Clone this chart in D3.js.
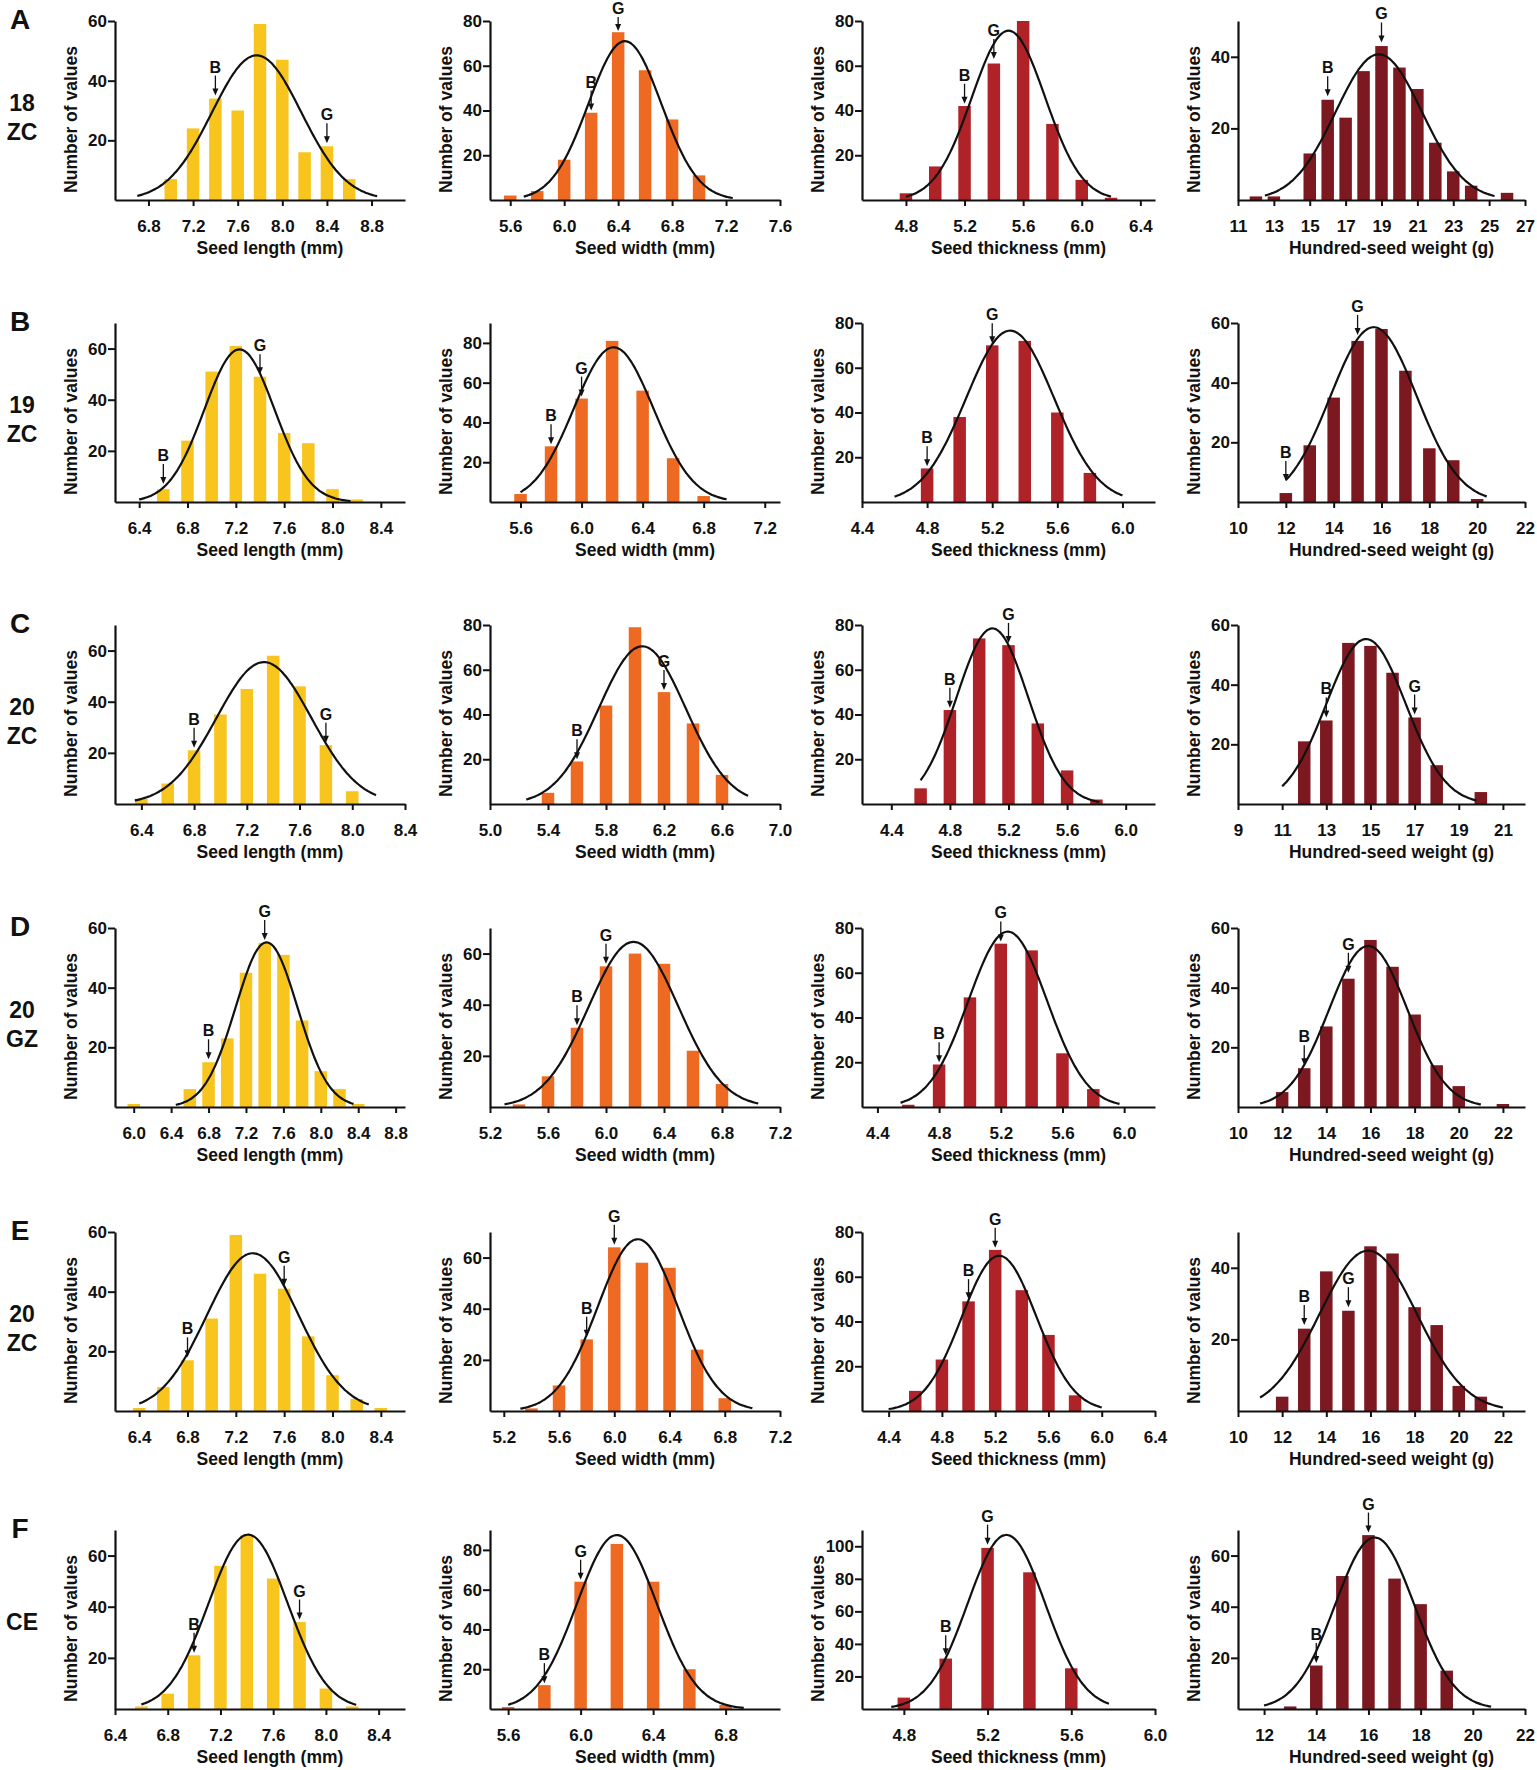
<!DOCTYPE html>
<html>
<head>
<meta charset="utf-8">
<script src="https://cdn.jsdelivr.net/npm/d3@7"></script>
<style>
  body { margin: 0; background: #fff; }
  svg text { font-family: "Liberation Sans", Arial, sans-serif; font-weight: bold; fill: #111; }
</style>
</head>
<body>
<div id="chart"></div>
<script>
// rows and traits
const rowLetters = ["A", "B", "C", "D", "E", "F"];
const rowNames = [["18", "ZC"], ["19", "ZC"], ["20", "ZC"], ["20", "GZ"], ["20", "ZC"], ["CE"]];
const traitTitles = ["Seed length (mm)", "Seed width (mm)", "Seed thickness (mm)", "Hundred-seed weight (g)"];
const traitColors = ["#f7c51e", "#ee6a23", "#ae2228", "#7b1820"];
const binSteps = [0.2, 0.2, 0.2, 1];

// seed length
const lengthBinStart = [7.0, 6.6, 6.4, 6.0, 6.4, 6.6];
const lengthCounts = [
  [7, 24, 34, 30, 59, 47, 16, 18, 7],
  [5, 24, 51, 61, 49, 27, 23, 5, 1],
  [2, 8, 21, 35, 45, 58, 46, 23, 5],
  [1, 0, 0, 6, 15, 23, 45, 55, 51, 29, 12, 6, 1],
  [1, 8, 17, 31, 59, 46, 41, 25, 12, 4, 1],
  [1, 6, 21, 56, 68, 51, 34, 8, 1]
];
const lengthXDomain = [[6.5, 9.1], [6.2, 8.6], [6.2, 8.4], [5.8, 8.9], [6.2, 8.6], [6.4, 8.6]];
const lengthXTicks = [
  [6.8, 7.2, 7.6, 8.0, 8.4, 8.8],
  [6.4, 6.8, 7.2, 7.6, 8.0, 8.4],
  [6.4, 6.8, 7.2, 7.6, 8.0, 8.4],
  [6.0, 6.4, 6.8, 7.2, 7.6, 8.0, 8.4, 8.8],
  [6.4, 6.8, 7.2, 7.6, 8.0, 8.4],
  [6.4, 6.8, 7.2, 7.6, 8.0, 8.4]
];
const lengthYMax = [60, 70, 70, 60, 60, 70];
// gaussian fit: mean, sd, peak, from, to
const lengthCurve = [
  [7.77, 0.40, 48.5, 6.7, 8.85],
  [7.23, 0.29, 59.7, 6.4, 8.15],
  [7.33, 0.36, 55.5, 6.35, 8.18],
  [7.42, 0.33, 55.2, 6.45, 8.35],
  [7.34, 0.38, 52.9, 6.4, 8.3],
  [7.41, 0.30, 68.2, 6.6, 8.23]
];
const lengthArrows = [
  [["B", 7.4, 35], ["G", 8.4, 19]],
  [["B", 6.6, 7], ["G", 7.4, 50]],
  [["B", 6.8, 22], ["G", 7.8, 24]],
  [["B", 6.8, 16], ["G", 7.4, 56]],
  [["B", 6.8, 18], ["G", 7.6, 42]],
  [["B", 7.0, 22], ["G", 7.8, 35]]
];

// seed width
const widthBinStart = [5.6, 5.6, 5.4, 5.4, 5.4, 5.6];
const widthCounts = [
  [2, 4, 18, 39, 75, 58, 36, 11],
  [4, 28, 52, 81, 56, 22, 3],
  [5, 19, 44, 79, 50, 36, 13],
  [1, 12, 31, 55, 60, 56, 22, 9],
  [1, 10, 28, 64, 58, 56, 24, 5],
  [1, 12, 64, 83, 64, 20, 2]
];
const widthXDomain = [[5.45, 7.6], [5.4, 7.3], [5.0, 7.0], [5.2, 7.2], [5.1, 7.2], [5.5, 7.1]];
const widthXTicks = [
  [5.6, 6.0, 6.4, 6.8, 7.2, 7.6],
  [5.6, 6.0, 6.4, 6.8, 7.2],
  [5.0, 5.4, 5.8, 6.2, 6.6, 7.0],
  [5.2, 5.6, 6.0, 6.4, 6.8, 7.2],
  [5.2, 5.6, 6.0, 6.4, 6.8, 7.2],
  [5.6, 6.0, 6.4, 6.8]
];
const widthYMax = [80, 90, 80, 70, 70, 90];
const widthCurve = [
  [6.45, 0.27, 71, 5.7, 7.25],
  [6.21, 0.26, 77.8, 5.6, 6.95],
  [6.05, 0.30, 70.5, 5.25, 6.78],
  [6.19, 0.31, 64.6, 5.3, 7.05],
  [6.17, 0.29, 67.2, 5.32, 7.0],
  [6.20, 0.22, 87.5, 5.6, 6.9]
];
const widthArrows = [
  [["B", 6.2, 40], ["G", 6.4, 75.5]],
  [["B", 5.8, 29], ["G", 6.0, 53]],
  [["B", 5.6, 20], ["G", 6.2, 51]],
  [["B", 5.8, 32], ["G", 6.0, 56]],
  [["B", 5.8, 29], ["G", 6.0, 65]],
  [["B", 5.8, 13], ["G", 6.0, 65]]
];

// seed thickness
const thickBinStart = [4.8, 4.8, 4.6, 4.6, 4.6, 4.8];
const thickCounts = [
  [3, 15, 42, 61, 80, 34, 9, 1],
  [15, 38, 70, 72, 40, 13],
  [7, 42, 74, 71, 36, 15, 2],
  [1, 19, 49, 73, 70, 24, 8],
  [9, 23, 49, 72, 54, 34, 7],
  [7, 31, 99, 84, 25]
];
const thickXDomain = [[4.5, 6.5], [4.4, 6.2], [4.2, 6.2], [4.3, 6.2], [4.2, 6.4], [4.6, 6.0]];
const thickXTicks = [
  [4.8, 5.2, 5.6, 6.0, 6.4],
  [4.4, 4.8, 5.2, 5.6, 6.0],
  [4.4, 4.8, 5.2, 5.6, 6.0],
  [4.4, 4.8, 5.2, 5.6, 6.0],
  [4.4, 4.8, 5.2, 5.6, 6.0, 6.4],
  [4.8, 5.2, 5.6, 6.0]
];
const thickYMax = [80, 80, 80, 80, 80, 110];
const thickCurve = [
  [5.50, 0.25, 75.7, 4.8, 6.2],
  [5.31, 0.27, 76.6, 4.6, 6.0],
  [5.09, 0.245, 78.5, 4.6, 5.82],
  [5.245, 0.255, 78.4, 4.55, 5.97],
  [5.23, 0.28, 69.4, 4.4, 6.0],
  [5.29, 0.185, 107, 4.74, 5.78]
];
const thickArrows = [
  [["B", 5.2, 43], ["G", 5.4, 63]],
  [["B", 4.8, 16], ["G", 5.2, 71]],
  [["B", 4.8, 43], ["G", 5.2, 72]],
  [["B", 4.8, 20], ["G", 5.2, 74]],
  [["B", 5.0, 50], ["G", 5.2, 73]],
  [["B", 5.0, 33], ["G", 5.2, 101]]
];

// hundred-seed weight
const weightBinStart = [12, 12, 12, 12, 12, 13];
const weightCounts = [
  [1, 1, 0, 13, 28, 23, 36, 43, 37, 31, 16, 8, 4, 0, 2],
  [3, 19, 35, 54, 58, 44, 18, 14, 1],
  [21, 28, 54, 53, 44, 29, 13, 0, 4],
  [5, 13, 27, 43, 56, 47, 31, 14, 7, 0, 1],
  [4, 23, 39, 28, 46, 44, 29, 24, 7, 4],
  [1, 17, 52, 68, 51, 41, 15]
];
const weightXDomain = [[11, 27], [10, 22], [9, 22], [10, 23], [10, 23], [11, 22]];
const weightXTicks = [
  [11, 13, 15, 17, 19, 21, 23, 25, 27],
  [10, 12, 14, 16, 18, 20, 22],
  [9, 11, 13, 15, 17, 19, 21],
  [10, 12, 14, 16, 18, 20, 22],
  [10, 12, 14, 16, 18, 20, 22],
  [12, 14, 16, 18, 20, 22]
];
const weightYMax = [50, 60, 60, 60, 50, 70];
const weightCurve = [
  [18.85, 2.4, 40.7, 12.5, 25.3],
  [15.67, 1.8, 58.6, 12, 20.4],
  [14.8, 1.8, 55.3, 11, 19.8],
  [15.9, 1.77, 54, 11, 21],
  [15.9, 2.2, 44.8, 11, 22],
  [16.24, 1.52, 67.1, 12, 20.7]
];
const weightArrows = [
  [["B", 16, 29], ["G", 19, 44]],
  [["B", 12, 7], ["G", 15, 56]],
  [["B", 13, 29], ["G", 17, 30]],
  [["B", 13, 14], ["G", 15, 45]],
  [["B", 13, 24], ["G", 15, 29]],
  [["B", 14, 18], ["G", 16, 69]]
];

const traits = [
  { start: lengthBinStart, counts: lengthCounts, domain: lengthXDomain, ticks: lengthXTicks, ymax: lengthYMax, curve: lengthCurve, arrows: lengthArrows, fmt: d3.format(".1f") },
  { start: widthBinStart, counts: widthCounts, domain: widthXDomain, ticks: widthXTicks, ymax: widthYMax, curve: widthCurve, arrows: widthArrows, fmt: d3.format(".1f") },
  { start: thickBinStart, counts: thickCounts, domain: thickXDomain, ticks: thickXTicks, ymax: thickYMax, curve: thickCurve, arrows: thickArrows, fmt: d3.format(".1f") },
  { start: weightBinStart, counts: weightCounts, domain: weightXDomain, ticks: weightXTicks, ymax: weightYMax, curve: weightCurve, arrows: weightArrows, fmt: d3.format("d") }
];

// layout
const width = 1537, height = 1770;
const colLeft = [115, 490, 862, 1238];
const colWidth = [290, 290, 293, 287];
const rowAxisY = [200, 502, 804, 1107, 1411, 1709];
const plotH = 179;
const barW = 12.5;

const svg = d3.select("#chart").append("svg")
  .attr("width", width)
  .attr("height", height);

// row labels
rowLetters.forEach((letter, r) => {
  const top = rowAxisY[r] - plotH;
  svg.append("text")
    .attr("x", 20).attr("y", top - 2)
    .attr("text-anchor", "middle").attr("dy", "0.35em")
    .style("font-size", "28px")
    .text(letter);
  const names = rowNames[r];
  const cy = names.length === 2 ? [top + 82, top + 111] : [top + 92];
  names.forEach((n, i) => {
    svg.append("text")
      .attr("x", 22).attr("y", cy[i])
      .attr("text-anchor", "middle").attr("dy", "0.35em")
      .style("font-size", "23px")
      .text(n);
  });
});

function drawPanel(r, c) {
  const t = traits[c];
  const x0 = colLeft[c], y0 = rowAxisY[r];
  const g = svg.append("g");

  const x = d3.scaleLinear().domain(t.domain[r]).range([x0, x0 + colWidth[c]]);
  const y = d3.scaleLinear().domain([0, t.ymax[r]]).range([y0, y0 - plotH]);

  const bins = t.counts[r].map((v, i) => ({ x: +(t.start[r] + i * binSteps[c]).toFixed(2), v }));

  g.selectAll("rect.bar")
    .data(bins.filter(d => d.v > 0))
    .join("rect")
    .attr("class", "bar")
    .attr("x", d => x(d.x) - barW / 2)
    .attr("width", barW)
    .attr("y", d => y(d.v))
    .attr("height", d => y0 - y(d.v))
    .attr("fill", traitColors[c]);

  // fitted normal curve
  const [mu, sd, peak, from, to] = t.curve[r];
  const pts = d3.range(0, 121).map(i => from + (to - from) * i / 120);
  const line = d3.line()
    .x(d => x(d))
    .y(d => y(peak * Math.exp(-((d - mu) ** 2) / (2 * sd * sd))))
    .curve(d3.curveBasis);
  g.append("path")
    .datum(pts)
    .attr("d", line)
    .attr("fill", "none")
    .attr("stroke", "#111")
    .attr("stroke-width", 2.2);

  // axes
  const xAxis = d3.axisBottom(x)
    .tickValues(t.ticks[r])
    .tickFormat(t.fmt)
    .tickSize(6)
    .tickSizeOuter(0)
    .tickPadding(14);
  const xg = g.append("g")
    .attr("transform", `translate(0,${y0})`)
    .call(xAxis);

  const yAxis = d3.axisLeft(y)
    .tickValues(d3.range(20, t.ymax[r] + 1, 20))
    .tickSize(7)
    .tickSizeOuter(0)
    .tickPadding(1);
  const yg = g.append("g")
    .attr("transform", `translate(${x0},0)`)
    .call(yAxis);

  [xg, yg].forEach(a => {
    a.select(".domain").attr("stroke", "#111").attr("stroke-width", 2.2);
    a.selectAll(".tick line").attr("stroke", "#111").attr("stroke-width", 2);
    a.selectAll(".tick text")
      .attr("fill", "#111")
      .style("font-size", "17px")
      .style("font-family", "'Liberation Sans', Arial, sans-serif")
      .style("font-weight", "bold");
  });

  // axis titles
  g.append("text")
    .attr("x", x0 + colWidth[c] / 2 + 10)
    .attr("y", y0 + 54)
    .attr("text-anchor", "middle")
    .style("font-size", "17.5px")
    .text(traitTitles[c]);

  g.append("text")
    .attr("transform", `translate(${x0 - 44},${y0 - plotH / 2 + 9}) rotate(-90)`)
    .attr("text-anchor", "middle")
    .attr("dy", "0.35em")
    .style("font-size", "17.5px")
    .text("Number of values");

  // B / G markers; arrow shortens when it would run off the top of the page
  t.arrows[r].forEach(([lab, ax, av]) => {
    const px = x(ax), tip = y(av);
    const top = Math.max(tip - 20, 17);
    g.append("line")
      .attr("x1", px).attr("x2", px)
      .attr("y1", top).attr("y2", tip - 5)
      .attr("stroke", "#111").attr("stroke-width", 1.3);
    g.append("path")
      .attr("d", `M${px - 3},${tip - 7} L${px + 3},${tip - 7} L${px},${tip} Z`)
      .attr("fill", "#111");
    g.append("text")
      .attr("x", px).attr("y", top - 3)
      .attr("text-anchor", "middle")
      .style("font-size", "16px")
      .text(lab);
  });
}

for (let r = 0; r < 6; r++) {
  for (let c = 0; c < 4; c++) drawPanel(r, c);
}
</script>
</body>
</html>
